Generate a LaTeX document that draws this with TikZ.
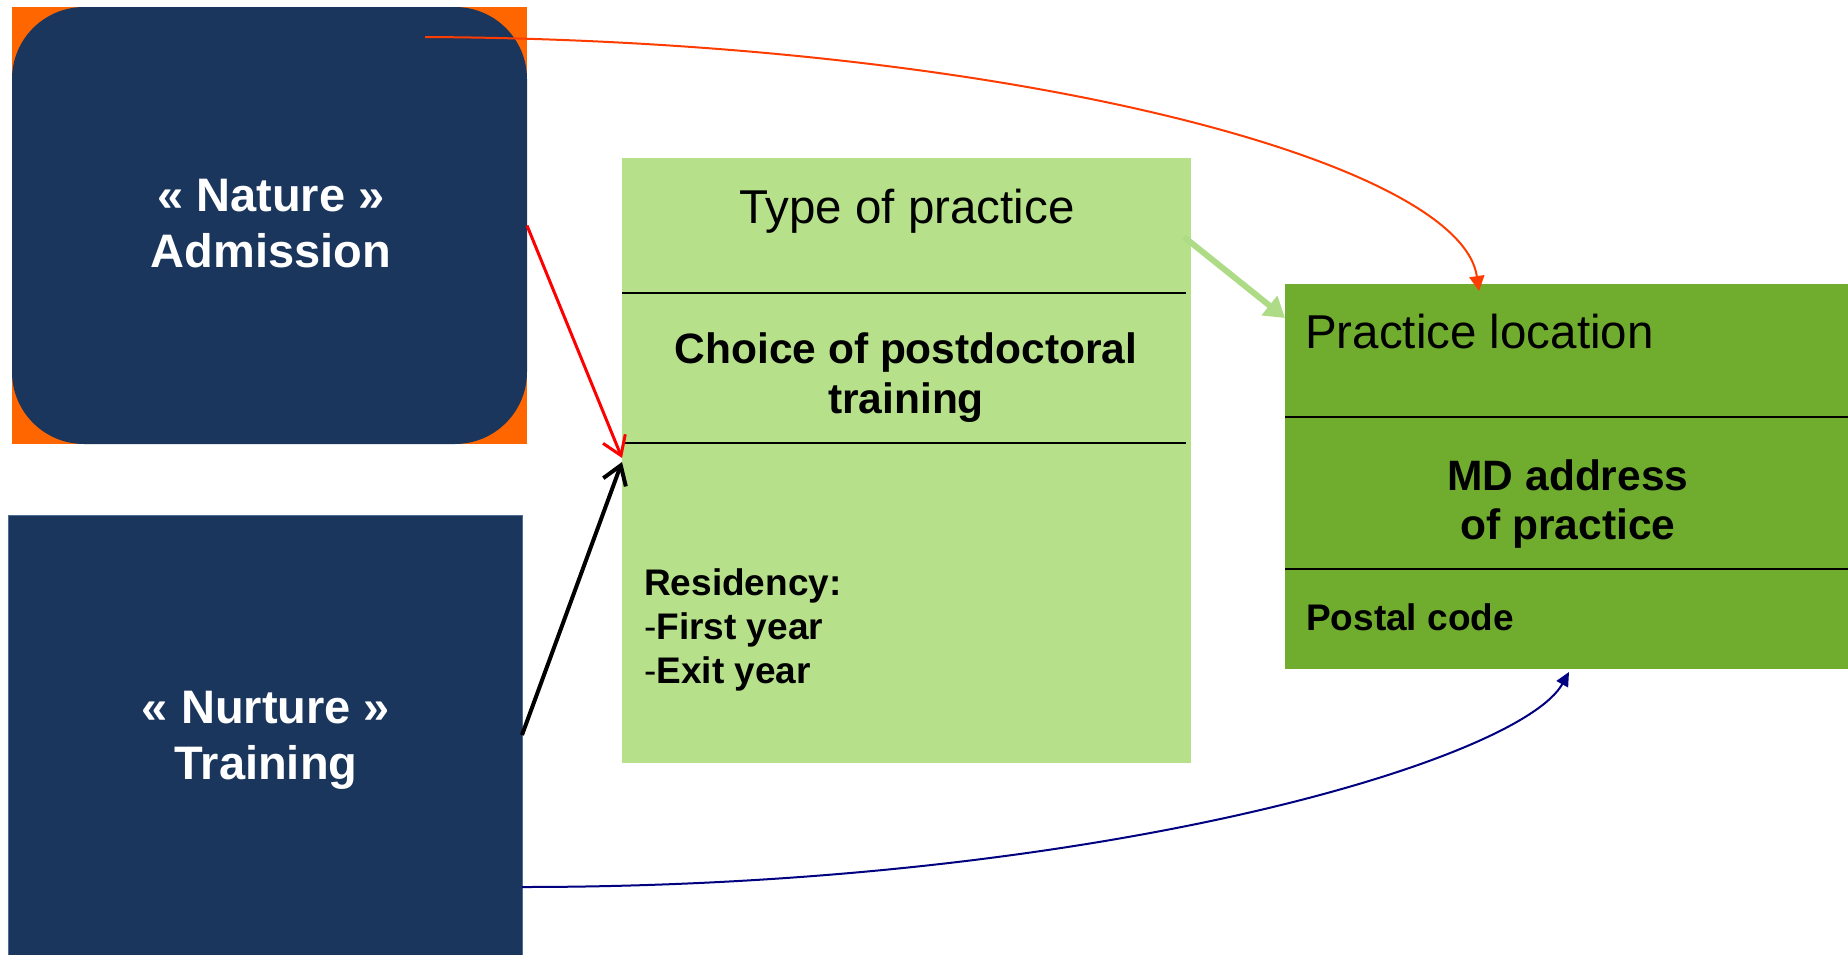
\documentclass[tikz,border=0pt]{standalone}
\usepackage{fontspec}
\setmainfont{Liberation Sans}
\usetikzlibrary{arrows.meta,calc}
\definecolor{navybox}{HTML}{1B365D}
\definecolor{navyedge}{HTML}{4D6D95}
\definecolor{orangebg}{HTML}{FF6600}
\definecolor{lightgreen}{HTML}{B7E08A}
\definecolor{arrowgreen}{HTML}{ADDB86}
\definecolor{darkgreen}{HTML}{70AD2F}
\definecolor{curvered}{HTML}{FF3C00}
\definecolor{curvenavy}{HTML}{000080}
\tikzset{
  box/.style={inner sep=0pt, outer sep=0pt, anchor=north west},
  bigwhite/.style={text=white, inner sep=0pt, align=center, anchor=base,
    font=\fontsize{47}{56}\selectfont\bfseries},
  headtxt/.style={inner sep=0pt, font=\fontsize{47.5}{57}\selectfont},
  boldmid/.style={inner sep=0pt, align=center, anchor=base,
    font=\fontsize{42.5}{50}\selectfont\bfseries},
  boldsmall/.style={inner sep=0pt, align=left, anchor=base west,
    font=\fontsize{37}{44}\selectfont\bfseries},
  divider/.style={line width=1.5pt, black},
  barbarrow/.style={-{Straight Barb[length=18pt,width=24pt]}}
}
\begin{document}
\begin{tikzpicture}[x=1pt,y=-1pt]
\useasboundingbox (0,0) rectangle (1848,954);
% Nature box
\node[box, fill=orangebg, minimum width=515pt, minimum height=437pt] (natureback) at (12,7) {};
\node[box, fill=navybox, rounded corners=72pt, minimum width=515pt, minimum height=437pt] (nature) at (12,7) {};
\node[bigwhite] (naturetxt) at (271,267) {« Nature »\\Admission};
% Nurture box
\node[box, fill=navybox, draw=navyedge, line width=1pt, minimum width=514pt, minimum height=440pt] (nurture) at (8,515) {};
\node[bigwhite] (nurturetxt) at (266,779) {« Nurture »\\Training};
% Type of practice box
\node[box, fill=lightgreen, minimum width=569pt, minimum height=605pt] (type) at (622,158) {};
\draw[divider] (622,293) -- (1186,293);
\draw[divider] (622,443) -- (1186,443);
\node[headtxt, anchor=base] (typetxt) at (907,223) {Type of practice};
\node[boldmid] (choicetxt) at (906,413) {Choice of postdoctoral\\training};
\node[boldsmall] (restxt) at (644,683) {Residency:\\{\mdseries -}First year\\{\mdseries -}Exit year};
% Practice location box
\node[box, fill=darkgreen, minimum width=563pt, minimum height=385pt] (loc) at (1285,284) {};
\draw[divider] (1285,417) -- (1848,417);
\draw[divider] (1285,569) -- (1848,569);
\node[headtxt, anchor=base west] (loctxt) at (1305,348) {Practice location};
\node[boldmid, font=\fontsize{42.5}{49}\selectfont\bfseries] (mdtxt) at (1568,539) {MD address\\of practice};
\node[boldsmall] (postaltxt) at (1306,630) {Postal code};
% connectors
\draw[red, line width=3pt, barbarrow] (nature.east) -- ($(type.north west)+(0,300)$);
\draw[black, line width=4pt, barbarrow] (nurture.east) -- ($(type.north west)+(0,304)$);
\draw[arrowgreen, line width=6pt, -{Triangle[length=20pt,width=24pt]}] ($(type.north east)+(-7,79)$) -- ($(loc.north west)+(0,34)$);
\draw[curvered, line width=2pt, -{Triangle[length=15pt,width=15pt]}] ($(nature.north west)+(413,30)$) .. controls (1000,40) and (1460,160) .. ($(loc.north west)+(194,7)$);
\draw[curvenavy, line width=2pt, -{Triangle[length=14pt,width=13pt]}] ($(nurture.north east)+(0,372)$) .. controls (1100,887) and (1520,760) .. ($(loc.south west)+(284,3)$);
\end{tikzpicture}
\end{document}
